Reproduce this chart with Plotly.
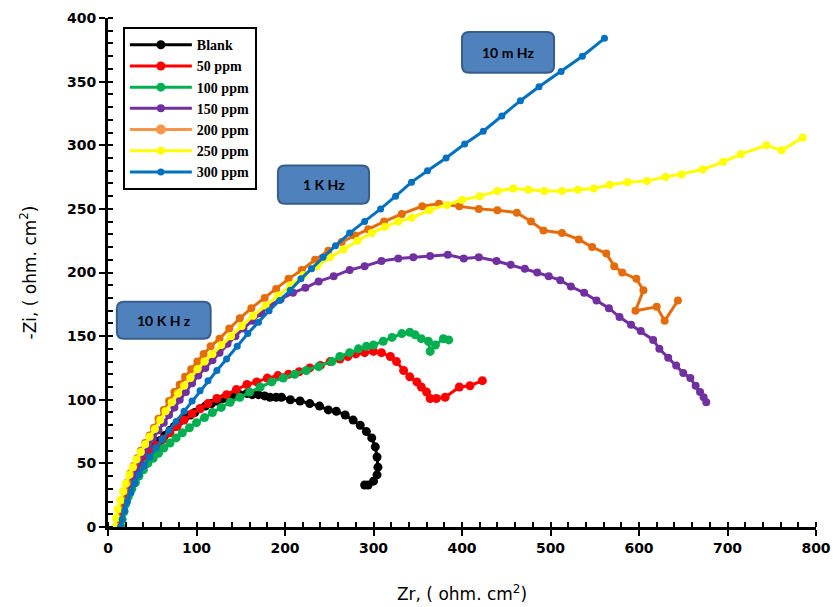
import plotly.graph_objects as go

# Nyquist data: Zr (x) and -Zi (y), ohm.cm^2
blank_x = [10, 12, 14, 17, 19, 22, 25, 28, 32, 36, 40, 45, 49, 54, 59, 64, 70, 75, 81, 87, 93, 98, 104, 110, 117, 123, 130, 136, 142, 149, 157, 163, 170, 177, 183, 190, 196, 206, 217, 228, 239, 249, 258, 268, 277, 285, 292, 298, 302, 304, 305, 304, 300, 294, 290]
blank_y = [0, 5, 11, 16, 21, 26, 32, 37, 42, 47, 51, 56, 60, 64, 68, 72, 76, 79, 83, 86, 88, 90, 93, 95, 97, 99, 101, 102, 104, 104, 105, 104, 104, 103, 102, 102, 102, 100, 99, 97, 95, 92, 91, 88, 84, 80, 75, 70, 63, 55, 47, 41, 36, 33, 33]

ppm50_x = [12, 13, 15, 17, 20, 23, 27, 31, 36, 42, 48, 55, 62, 70, 78, 86, 95, 104, 113, 123, 134, 145, 157, 168, 180, 192, 204, 216, 228, 240, 251, 262, 271, 280, 290, 300, 309, 319, 326, 334, 341, 349, 354, 360, 364, 371, 381, 397, 409, 423]
ppm50_y = [0, 6, 12, 18, 24, 30, 36, 42, 48, 54, 59, 64, 69, 74, 79, 84, 89, 93, 97, 101, 104, 108, 112, 114, 117, 119, 120, 122, 125, 127, 130, 132, 134, 136, 137, 138, 137, 134, 130, 123, 118, 114, 110, 106, 101, 101, 102, 110, 111, 115]

ppm100_x = [15, 16, 18, 20, 23, 27, 31, 35, 40, 45, 51, 57, 63, 70, 77, 84, 92, 100, 109, 118, 128, 138, 149, 160, 172, 185, 198, 211, 224, 238, 253, 262, 273, 283, 292, 300, 311, 321, 332, 341, 347, 354, 362, 364, 370, 379, 385]
ppm100_y = [0, 6, 12, 18, 24, 30, 35, 40, 45, 50, 54, 58, 62, 66, 70, 74, 78, 82, 86, 90, 94, 98, 102, 106, 110, 114, 117, 120, 123, 126, 130, 134, 137, 140, 142, 143, 146, 149, 152, 153, 151, 148, 146, 138, 143, 148, 147]

ppm150_x = [12, 13, 15, 18, 21, 24, 28, 32, 36, 41, 46, 51, 57, 63, 69, 75, 81, 88, 95, 102, 110, 118, 126, 135, 144, 153, 163, 173, 183, 195, 209, 223, 238, 255, 273, 290, 309, 328, 345, 364, 384, 402, 419, 439, 455, 471, 485, 498, 511, 523, 538, 552, 566, 578, 591, 602, 616, 623, 633, 642, 650, 658, 664, 669, 673, 676]
ppm150_y = [0, 7, 14, 21, 28, 34, 40, 46, 52, 58, 64, 70, 76, 82, 88, 94, 100, 106, 113, 119, 125, 131, 137, 144, 150, 156, 162, 168, 174, 179, 184, 188, 193, 197, 202, 205, 209, 211, 212, 213, 214, 211, 212, 209, 206, 203, 200, 197, 194, 189, 184, 178, 172, 165, 159, 154, 147, 140, 133, 127, 121, 117, 111, 106, 102, 98]

ppm200_x = [10, 11, 13, 16, 19, 22, 25, 29, 33, 37, 42, 47, 52, 57, 63, 69, 75, 81, 87, 94, 101, 108, 116, 126, 137, 149, 162, 177, 190, 204, 219, 234, 249, 264, 279, 294, 312, 332, 355, 374, 397, 419, 440, 462, 478, 492, 513, 532, 547, 563, 572, 581, 597, 605, 596, 620, 629, 644]
ppm200_y = [0, 7, 14, 21, 28, 35, 42, 48, 54, 60, 66, 72, 78, 85, 92, 99, 106, 112, 118, 124, 130, 136, 142, 148, 156, 164, 172, 180, 187, 195, 202, 210, 217, 224, 229, 234, 240, 246, 252, 254, 252, 250, 249, 247, 240, 233, 231, 226, 220, 215, 205, 200, 195, 186, 170, 173, 162, 178]

ppm250_x = [8, 9, 11, 14, 17, 20, 24, 28, 32, 37, 42, 47, 53, 59, 65, 72, 79, 86, 93, 101, 109, 118, 128, 139, 151, 164, 178, 192, 206, 221, 236, 251, 266, 282, 298, 313, 328, 343, 363, 383, 400, 420, 440, 458, 475, 493, 513, 531, 549, 567, 587, 609, 630, 648, 672, 695, 715, 744, 761, 785]
ppm250_y = [0, 7, 14, 21, 28, 34, 41, 47, 53, 59, 65, 71, 77, 84, 91, 98, 105, 111, 117, 124, 130, 136, 143, 150, 158, 166, 174, 182, 190, 198, 205, 212, 218, 225, 231, 236, 240, 243, 249, 253, 257, 260, 264, 266, 265, 264, 264, 265, 266, 269, 271, 272, 275, 277, 281, 287, 293, 300, 296, 306]

ppm300_x = [14, 16, 19, 22, 26, 30, 35, 41, 47, 54, 61, 69, 77, 86, 95, 104, 113, 123, 134, 146, 158, 170, 182, 194, 206, 218, 230, 243, 257, 273, 290, 308, 325, 343, 361, 382, 403, 424, 445, 466, 487, 512, 536, 561]
ppm300_y = [0, 6, 13, 20, 27, 34, 41, 48, 55, 62, 69, 76, 83, 91, 99, 107, 115, 123, 132, 142, 152, 161, 170, 178, 186, 195, 203, 212, 221, 231, 240, 250, 260, 271, 280, 290, 301, 311, 323, 335, 346, 358, 370, 384]

series_names = ["Blank", "50 ppm", "100 ppm", "150 ppm", "200 ppm", "250 ppm", "300 ppm"]
series_x = [blank_x, ppm50_x, ppm100_x, ppm150_x, ppm200_x, ppm250_x, ppm300_x]
series_y = [blank_y, ppm50_y, ppm100_y, ppm150_y, ppm200_y, ppm250_y, ppm300_y]
line_colors = ["#000000", "#FF0000", "#00B050", "#7030A0", "#E46C0A", "#FFFF00", "#0070C0"]
legend_colors = ["#000000", "#FF0000", "#00B050", "#7030A0", "#F79646", "#FFFF00", "#0070C0"]
marker_sizes = [9, 9, 9, 8, 8, 8, 7]

# frequency labels: (text, x0, x1, y0, y1) in data units
freq_labels = [
    ("10 m Hz", 400, 504, 357, 389),
    ("1 K Hz", 192, 295, 254, 284),
    ("10 K H z", 10, 116, 148, 177),
]

fig = go.Figure()

for i, (name, xs, ys, lc, gc, ms) in enumerate(zip(series_names, series_x, series_y, line_colors, legend_colors, marker_sizes)):
    same = lc == gc
    fig.add_trace(go.Scatter(
        x=xs, y=ys, mode="lines+markers", name=name,
        line=dict(color=lc, width=3),
        marker=dict(color=lc, size=ms),
        showlegend=same, legendrank=i,
    ))
    if not same:
        # lighter swatch for the legend entry
        fig.add_trace(go.Scatter(
            x=[None], y=[None], mode="lines+markers", name=name,
            line=dict(color=gc, width=3), marker=dict(color=gc, size=10),
            legendrank=i,
        ))

# rounded blue boxes with frequency labels
px_per_x = 708 / 800
px_per_y = 509 / 400
r = 7
for text, x0, x1, y0, y1 in freq_labels:
    rx = r / px_per_x
    ry = r / px_per_y
    path = (
        f"M {x0 + rx},{y0} L {x1 - rx},{y0} Q {x1},{y0} {x1},{y0 + ry} "
        f"L {x1},{y1 - ry} Q {x1},{y1} {x1 - rx},{y1} "
        f"L {x0 + rx},{y1} Q {x0},{y1} {x0},{y1 - ry} "
        f"L {x0},{y0 + ry} Q {x0},{y0} {x0 + rx},{y0} Z"
    )
    fig.add_shape(type="path", path=path, xref="x", yref="y",
                  fillcolor="#4F81BD", line=dict(color="#385D8A", width=2), layer="above")
    fig.add_annotation(x=(x0 + x1) / 2, y=(y0 + y1) / 2, text=f"<b>{text}</b>",
                       showarrow=False, xref="x", yref="y",
                       font=dict(family="Lato, Open Sans, sans-serif", size=14, color="black"))

axis_common = dict(
    showline=True, linecolor="black", linewidth=3, mirror=False,
    showgrid=False, zeroline=False, automargin=False,
    ticks="outside", ticklen=6, tickwidth=2, tickcolor="black",
    tickfont=dict(family="DejaVu Sans", size=14, color="black", weight="bold"),
)

fig.update_xaxes(
    range=[0, 800], dtick=100, tick0=0,
    minor=dict(dtick=20, ticks="inside", ticklen=5, tickwidth=2, tickcolor="black"),
    title=dict(text="Zr, ( ohm. cm<sup>2</sup>)", standoff=34,
               font=dict(family="DejaVu Sans", size=17, color="black")),
    **axis_common,
)
fig.update_yaxes(
    range=[0, 400], dtick=50, tick0=0,
    minor=dict(dtick=10, ticks="inside", ticklen=5, tickwidth=2, tickcolor="black"),
    title=dict(text="-Zi, ( ohm. cm<sup>2</sup>)", standoff=27,
               font=dict(family="DejaVu Sans", size=17, color="black")),
    **axis_common,
)

fig.update_layout(
    width=833, height=607,
    margin=dict(l=108, r=17, t=18, b=80),
    plot_bgcolor="white", paper_bgcolor="white",
    legend=dict(
        x=0.021, y=0.982, xanchor="left", yanchor="top",
        bgcolor="white", bordercolor="black", borderwidth=2,
        font=dict(family="Liberation Serif", size=14, color="black", weight="bold"),
        itemwidth=62, tracegroupgap=0,
    ),
)

fig.write_html("out.html")
